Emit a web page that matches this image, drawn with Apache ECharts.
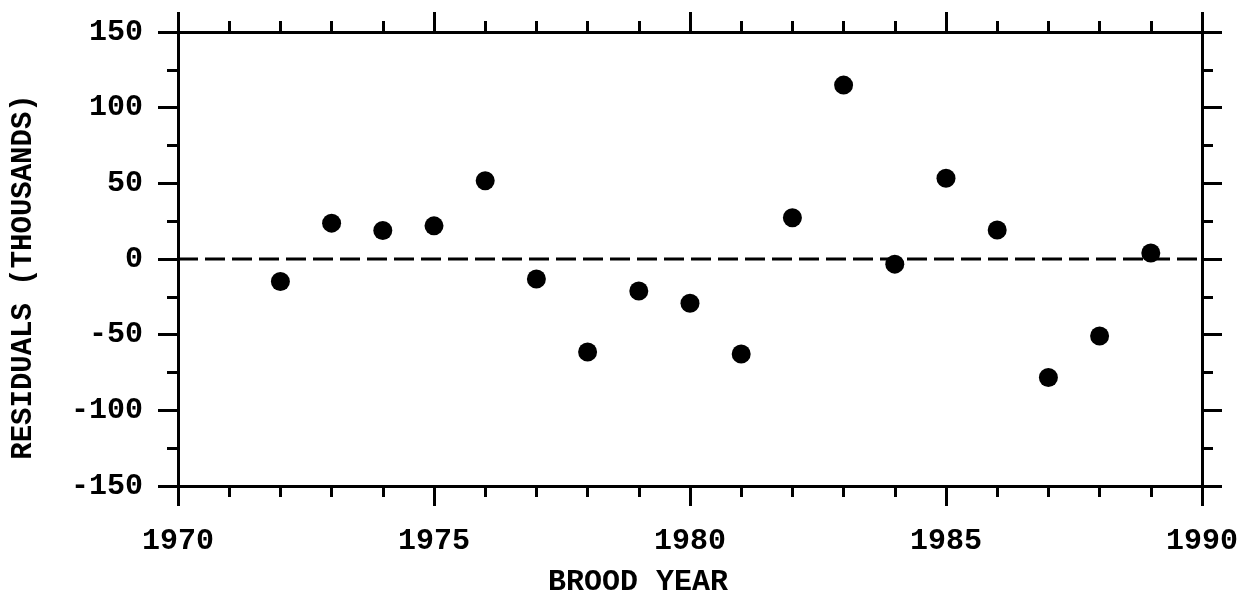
<!DOCTYPE html>
<html>
<head>
<meta charset="utf-8">
<script src="https://cdn.jsdelivr.net/npm/echarts@6/dist/echarts.min.js"></script>
<style>
html,body{margin:0;padding:0;background:#fff;}
#chart{width:1243px;height:596px;}
</style>
</head>
<body>
<div id="chart"></div>
<script>
var years = [1972,1973,1974,1975,1976,1977,1978,1979,1980,1981,1982,1983,1984,1985,1986,1987,1988,1989];
var residuals = [-14.9,23.7,18.8,21.9,51.7,-13.2,-61.4,-21.1,-29.2,-62.8,27.2,114.9,-3.4,53.4,19.2,-78.3,-50.9,4.0];
var xTitle = 'BROOD YEAR';
var yTitle = 'RESIDUALS (THOUSANDS)';
var xRange = [1970, 1990];
var yRange = [-150, 150];

var FONT = '"Liberation Mono", "Courier New", monospace';
var lineW = 3;

function xAxisCfg(pos, showLabel) {
  return {
    type: 'value', position: pos, min: xRange[0], max: xRange[1], interval: 5,
    axisLine: {show: true, onZero: false, lineStyle: {color: '#000', width: lineW}},
    axisTick: {show: true, inside: false, length: 20, lineStyle: {color: '#000', width: lineW}},
    minorTick: {show: true, splitNumber: 5, length: 11, lineStyle: {color: '#000', width: lineW}},
    splitLine: {show: false},
    axisLabel: {show: showLabel, margin: 40, color: '#000', fontFamily: FONT, fontWeight: 'bold', fontSize: 30,
      formatter: function (v) { return String(v); }}
  };
}
function yAxisCfg(pos, showLabel) {
  return {
    type: 'value', position: pos, min: yRange[0], max: yRange[1], interval: 50,
    axisLine: {show: true, onZero: false, lineStyle: {color: '#000', width: lineW}},
    axisTick: {show: true, inside: false, length: 20, lineStyle: {color: '#000', width: lineW}},
    minorTick: {show: true, splitNumber: 2, length: 11, lineStyle: {color: '#000', width: lineW}},
    splitLine: {show: false},
    axisLabel: {show: showLabel, margin: 35, color: '#000', fontFamily: FONT, fontWeight: 'bold', fontSize: 30}
  };
}

var chart = echarts.init(document.getElementById('chart'), null, {renderer: 'canvas'});
chart.setOption({
  backgroundColor: '#fff',
  animation: false,
  grid: {left: 178, right: 41, top: 32, bottom: 110, containLabel: false},
  xAxis: [xAxisCfg('bottom', true), xAxisCfg('top', false)],
  yAxis: [yAxisCfg('left', true), yAxisCfg('right', false)],
  series: [
    {
      type: 'line', xAxisIndex: 0, yAxisIndex: 0,
      data: [[xRange[0], 0], [xRange[1], 0]],
      symbol: 'none',
      lineStyle: {color: '#000', width: 3, type: [20, 7]},
      silent: true, z: 1
    },
    {
      type: 'scatter', xAxisIndex: 0, yAxisIndex: 0,
      data: years.map(function (y, i) { return [y, residuals[i]]; }),
      symbol: 'circle', symbolSize: 19,
      itemStyle: {color: '#000', opacity: 1}, z: 3
    }
  ],
  graphic: [
    {type: 'text', x: 638, y: 582, style: {text: xTitle, fontFamily: FONT, fontWeight: 'bold', fontSize: 30, fill: '#000', align: 'center', verticalAlign: 'middle'}},
    {type: 'text', x: 24, y: 277, rotation: Math.PI / 2, style: {text: yTitle, fontFamily: FONT, fontWeight: 'bold', fontSize: 29, fill: '#000', align: 'center', verticalAlign: 'middle'}}
  ]
});
</script>
</body>
</html>
